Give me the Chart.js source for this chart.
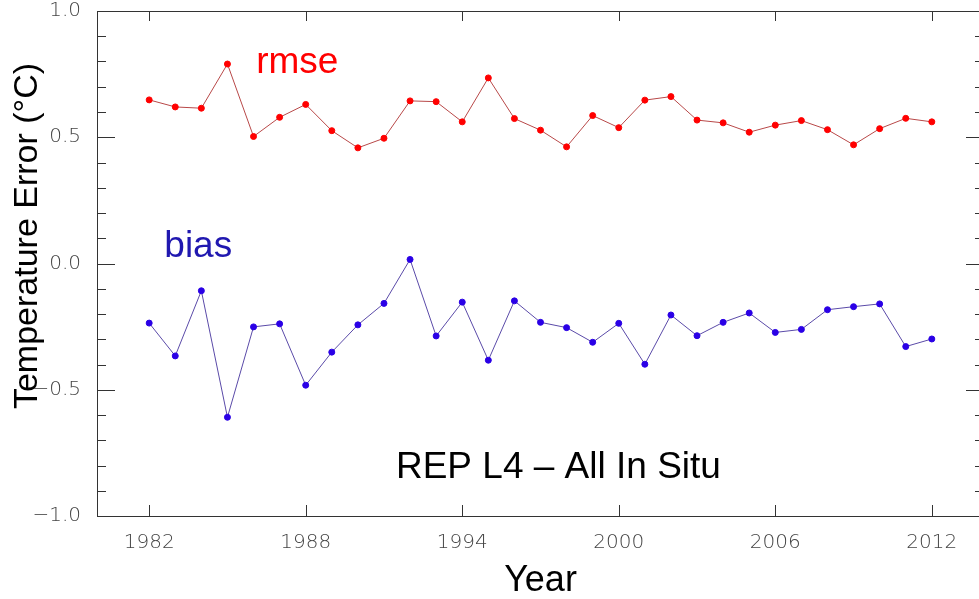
<!DOCTYPE html>
<html>
<head>
<meta charset="utf-8">
<script src="https://cdn.jsdelivr.net/npm/chart.js@4.4.1/dist/chart.umd.min.js"></script>
<style>
  html, body { margin: 0; padding: 0; background: #fff; overflow: hidden; }
  canvas { display: block; }
</style>
</head>
<body>
<canvas id="chart-error" width="1000" height="599"></canvas>
<script>
const years = [1982, 1983, 1984, 1985, 1986, 1987, 1988, 1989, 1990, 1991, 1992,
  1993, 1994, 1995, 1996, 1997, 1998, 1999, 2000, 2001, 2002, 2003, 2004, 2005,
  2006, 2007, 2008, 2009, 2010, 2011, 2012];
const rmse = [0.648, 0.620, 0.615, 0.790, 0.503, 0.579, 0.630, 0.526, 0.458, 0.496,
  0.644, 0.641, 0.561, 0.735, 0.574, 0.528, 0.462, 0.586, 0.538, 0.647, 0.661,
  0.568, 0.557, 0.520, 0.548, 0.566, 0.530, 0.470, 0.534, 0.575, 0.561];
const bias = [-0.236, -0.366, -0.108, -0.609, -0.251, -0.239, -0.482, -0.351, -0.243,
  -0.158, 0.016, -0.287, -0.153, -0.383, -0.148, -0.233, -0.254, -0.312, -0.237,
  -0.399, -0.204, -0.286, -0.233, -0.196, -0.273, -0.261, -0.183, -0.171, -0.160,
  -0.329, -0.299];
const xTicks = [1982, 1988, 1994, 2000, 2006, 2012];
const yTicks = [-1.0, -0.5, 0.0, 0.5, 1.0];
// text labels placed in data coordinates (left edge, baseline)
const notes = [
  { text: 'rmse', x: 1986.1, y: 0.756, color: '#ff0000' },
  { text: 'bias', x: 1982.58, y: 0.026, color: '#2018b0' },
  { text: 'REP L4 \u2013 All In Situ', x: 1991.46, y: -0.85, color: '#000000' }
];

const tickFont = { family: 'DejaVu Sans', size: 20, weight: 300 };

const frameTicks = {
  id: 'frameTicks',
  beforeDatasetsDraw(chart) {
    const { ctx, chartArea: a, scales: { x, y } } = chart;
    ctx.save();
    ctx.strokeStyle = '#333';
    ctx.lineWidth = 1;
    ctx.beginPath();
    for (let i = -10; i <= 10; i++) {
      const py = Math.round(y.getPixelForValue(i / 10)) + 0.5;
      const len = i % 5 === 0 ? 18 : 9;
      ctx.moveTo(a.left, py); ctx.lineTo(a.left + len, py);
      ctx.moveTo(a.right, py); ctx.lineTo(a.right - len, py);
    }
    xTicks.forEach(v => {
      const px = Math.round(x.getPixelForValue(v)) + 0.5;
      ctx.moveTo(px, a.bottom); ctx.lineTo(px, a.bottom - 11);
      ctx.moveTo(px, a.top); ctx.lineTo(px, a.top + 10);
    });
    ctx.stroke();
    ctx.restore();
  },
  afterDraw(chart) {
    const { ctx, scales: { x, y } } = chart;
    ctx.save();
    ctx.font = '37px "Liberation Sans", Arial, sans-serif';
    ctx.textBaseline = 'alphabetic';
    ctx.textAlign = 'left';
    notes.forEach(n => {
      ctx.fillStyle = n.color;
      ctx.fillText(n.text, x.getPixelForValue(n.x), y.getPixelForValue(n.y));
    });
    // y axis title
    ctx.font = '34px "Liberation Sans", Arial, sans-serif';
    ctx.fillStyle = '#000';
    ctx.textAlign = 'center';
    ctx.textBaseline = 'middle';
    ctx.translate(28, 236);
    ctx.rotate(-Math.PI / 2);
    ctx.fillText('Temperature Error (\u00b0C)', 0, 0);
    ctx.restore();
  }
};

const chartError = new Chart(document.getElementById('chart-error'), {
  type: 'line',
  data: {
    datasets: [{
      label: 'rmse',
      data: years.map((yr, i) => ({ x: yr, y: rmse[i] })),
      borderColor: '#b84848',
      borderWidth: 1,
      backgroundColor: '#ff0000',
      pointBackgroundColor: '#ff0000',
      pointBorderColor: '#ff0000',
      pointBorderWidth: 1,
      pointRadius: 3,
      tension: 0
    }, {
      label: 'bias',
      data: years.map((yr, i) => ({ x: yr, y: bias[i] })),
      borderColor: '#5a4aa8',
      borderWidth: 1,
      backgroundColor: '#2a00e6',
      pointBackgroundColor: '#2a00e6',
      pointBorderColor: '#2a00e6',
      pointBorderWidth: 1,
      pointRadius: 3,
      tension: 0
    }]
  },
  options: {
    responsive: false,
    animation: false,
    layout: { padding: { left: 0, right: 16, top: 0, bottom: 0 } },
    plugins: { legend: { display: false }, tooltip: { enabled: false } },
    scales: {
      x: {
        type: 'linear',
        position: 'bottom',
        min: 1980,
        max: 2014,
        afterBuildTicks: s => { s.ticks = xTicks.map(v => ({ value: v })); },
        afterFit: s => { s.height = 83; s.paddingLeft = 0; s.paddingRight = 0; },
        grid: { display: false },
        border: { display: true, color: '#333', width: 1 },
        ticks: {
          autoSkip: false,
          maxRotation: 0,
          padding: 7,
          color: '#444',
          font: tickFont,
          callback: v => String(v)
        },
        title: {
          display: true,
          text: 'Year',
          color: '#000',
          padding: 0,
          font: { family: 'Liberation Sans', size: 36, lineHeight: 1 }
        }
      },
      x2: {
        type: 'linear',
        position: 'top',
        min: 1980,
        max: 2014,
        afterFit: s => { s.height = 11; s.paddingLeft = 0; s.paddingRight = 0; },
        grid: { display: false },
        ticks: { display: false },
        border: { display: true, color: '#333', width: 1 }
      },
      y: {
        type: 'linear',
        position: 'left',
        min: -1,
        max: 1,
        afterBuildTicks: s => { s.ticks = yTicks.map(v => ({ value: v })); },
        afterFit: s => { s.width = 97; s.paddingTop = 0; s.paddingBottom = 0; },
        grid: { display: false },
        border: { display: true, color: '#333', width: 1 },
        ticks: {
          padding: 8,
          color: '#444',
          font: tickFont,
          callback: v => v.toFixed(1).replace('-', '\u2212')
        }
      },
      y2: {
        type: 'linear',
        position: 'right',
        min: -1,
        max: 1,
        afterFit: s => { s.width = 0; s.paddingTop = 0; s.paddingBottom = 0; },
        grid: { display: false },
        ticks: { display: false },
        border: { display: true, color: '#333', width: 1 }
      }
    }
  },
  plugins: [frameTicks]
});
</script>
</body>
</html>
